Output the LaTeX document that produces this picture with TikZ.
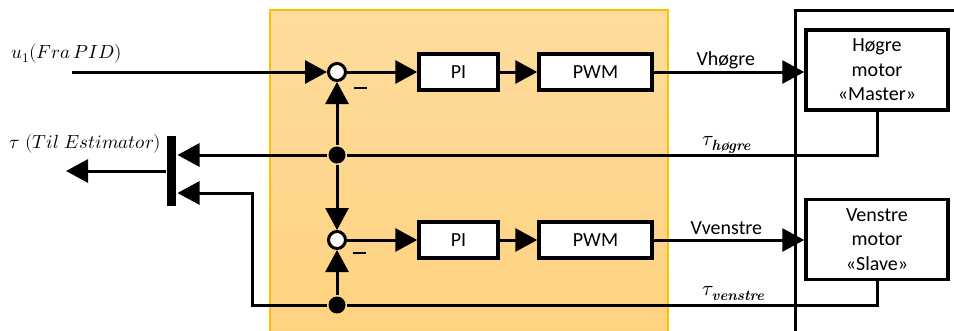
\documentclass[tikz,border=0pt]{standalone}
\usepackage{amsmath}
\usepackage{fontspec}
\usepackage{unicode-math}
\setmathfont{Latin Modern Math}
\newfontfamily\sansfam{Carlito}
\usetikzlibrary{arrows.meta}
\definecolor{otop}{HTML}{FEDC9D}
\definecolor{obot}{HTML}{FED27F}
\definecolor{oborder}{HTML}{FFC000}
\begin{document}
\begin{tikzpicture}[x=1pt,y=-1pt,line width=3pt,
  arr/.style={-{Triangle[length=22pt,width=23pt]}},
  blk/.style={draw,fill=white,line width=3.5pt,inner sep=0pt,align=center,
    font=\sansfam\fontsize{20}{24.5}\selectfont},
  sumc/.style={circle,draw,fill=white,line width=3pt,minimum size=17pt,inner sep=0pt},
  dot/.style={circle,fill=black,minimum size=17pt,inner sep=0pt},
  barn/.style={rectangle,fill=black,minimum width=9pt,minimum height=70pt,inner sep=0pt},
  mlab/.style={anchor=base west,inner sep=0pt,font=\fontsize{19}{22}\selectfont},
  tlab/.style={anchor=base west,inner sep=0pt,font=\fontsize{21}{24}\selectfont},
  slab/.style={anchor=base west,inner sep=0pt,font=\sansfam\fontsize{20}{24}\selectfont},
  minus/.style={inner sep=0pt,minimum width=13pt,minimum height=1.8pt,fill=black}]
\clip (0,0) rectangle (954,330);
% orange controller area
\shade[top color=otop,bottom color=obot] (270,10) rectangle (668,345);
\draw[oborder,line width=2pt] (270,345) -- (270,10) -- (668,10) -- (668,345);
% motor frame
\draw (795,345) -- (795,10) -- (960,10);
% blocks
\node[sumc] (s1) at (337,72) {};
\node[sumc] (s2) at (337,240) {};
\node[blk,minimum width=79pt,minimum height=36pt] (pi1) at (458.5,72) {PI};
\node[blk,minimum width=113pt,minimum height=36pt] (pwm1) at (595.5,72) {PWM};
\node[blk,minimum width=79pt,minimum height=36pt] (pi2) at (458.5,240) {PI};
\node[blk,minimum width=113pt,minimum height=36pt] (pwm2) at (595.5,240) {PWM};
\node[blk,minimum width=142pt,minimum height=80pt] (m1) at (877,70) {Høgre\\motor\\«Master»};
\node[blk,minimum width=142pt,minimum height=80pt] (m2) at (877,239.5) {Venstre\\motor\\«Slave»};
\node[dot] (j1) at (337,155) {};
\node[dot] (j2) at (337,305) {};
\node[barn] (bar) at (171.5,171) {};
\coordinate (uin) at (72,72);
\coordinate (out) at (66,171);
\coordinate (c1) at (252,305);
\coordinate (c2) at (252,193);
% connectors
\draw[arr] (uin) -- (s1);
\draw[arr] (s1) -- (pi1);
\draw[arr] (pi1) -- (pwm1);
\draw[arr] (pwm1) -- (m1.west |- pwm1);
\draw[arr] (s2) -- (pi2);
\draw[arr] (pi2) -- (pwm2);
\draw[arr] (pwm2) -- (m2.west |- pwm2);
\draw (m1.south) |- (j1);
\draw[arr] (j1) -- (j1 -| bar.east);
\draw[arr] (j1) -- (s1.south);
\draw[arr] (j1) -- (s2.north);
\draw (m2.south) |- (j2);
\draw[arr] (j2) -- (s2.south);
\draw[arr] (j2) -- (c1) -- (c2) -- (c2 -| bar.east);
\draw[arr] (bar.west) -- (out);
% labels
\node[mlab] (lu) at (10,58) {$u_1(Fra\,PID)$};
\node[mlab] (lt) at (8,148) {$\tau\ (Til\ Estimator)$};
\node[slab] (lv1) at (695,65) {Vhøgre};
\node[slab] (lv2) at (689,234) {Vvenstre};
\node[tlab] (lth) at (701,145) {$\tau_{\text{\bfseries\itshape høgre}}$};
\node[tlab] (ltv) at (701,295) {$\tau_{\text{\bfseries\itshape venstre}}$};
\node[minus] (mi1) at (360,88) {};
\node[minus] (mi2) at (359,253) {};
\end{tikzpicture}
\end{document}
